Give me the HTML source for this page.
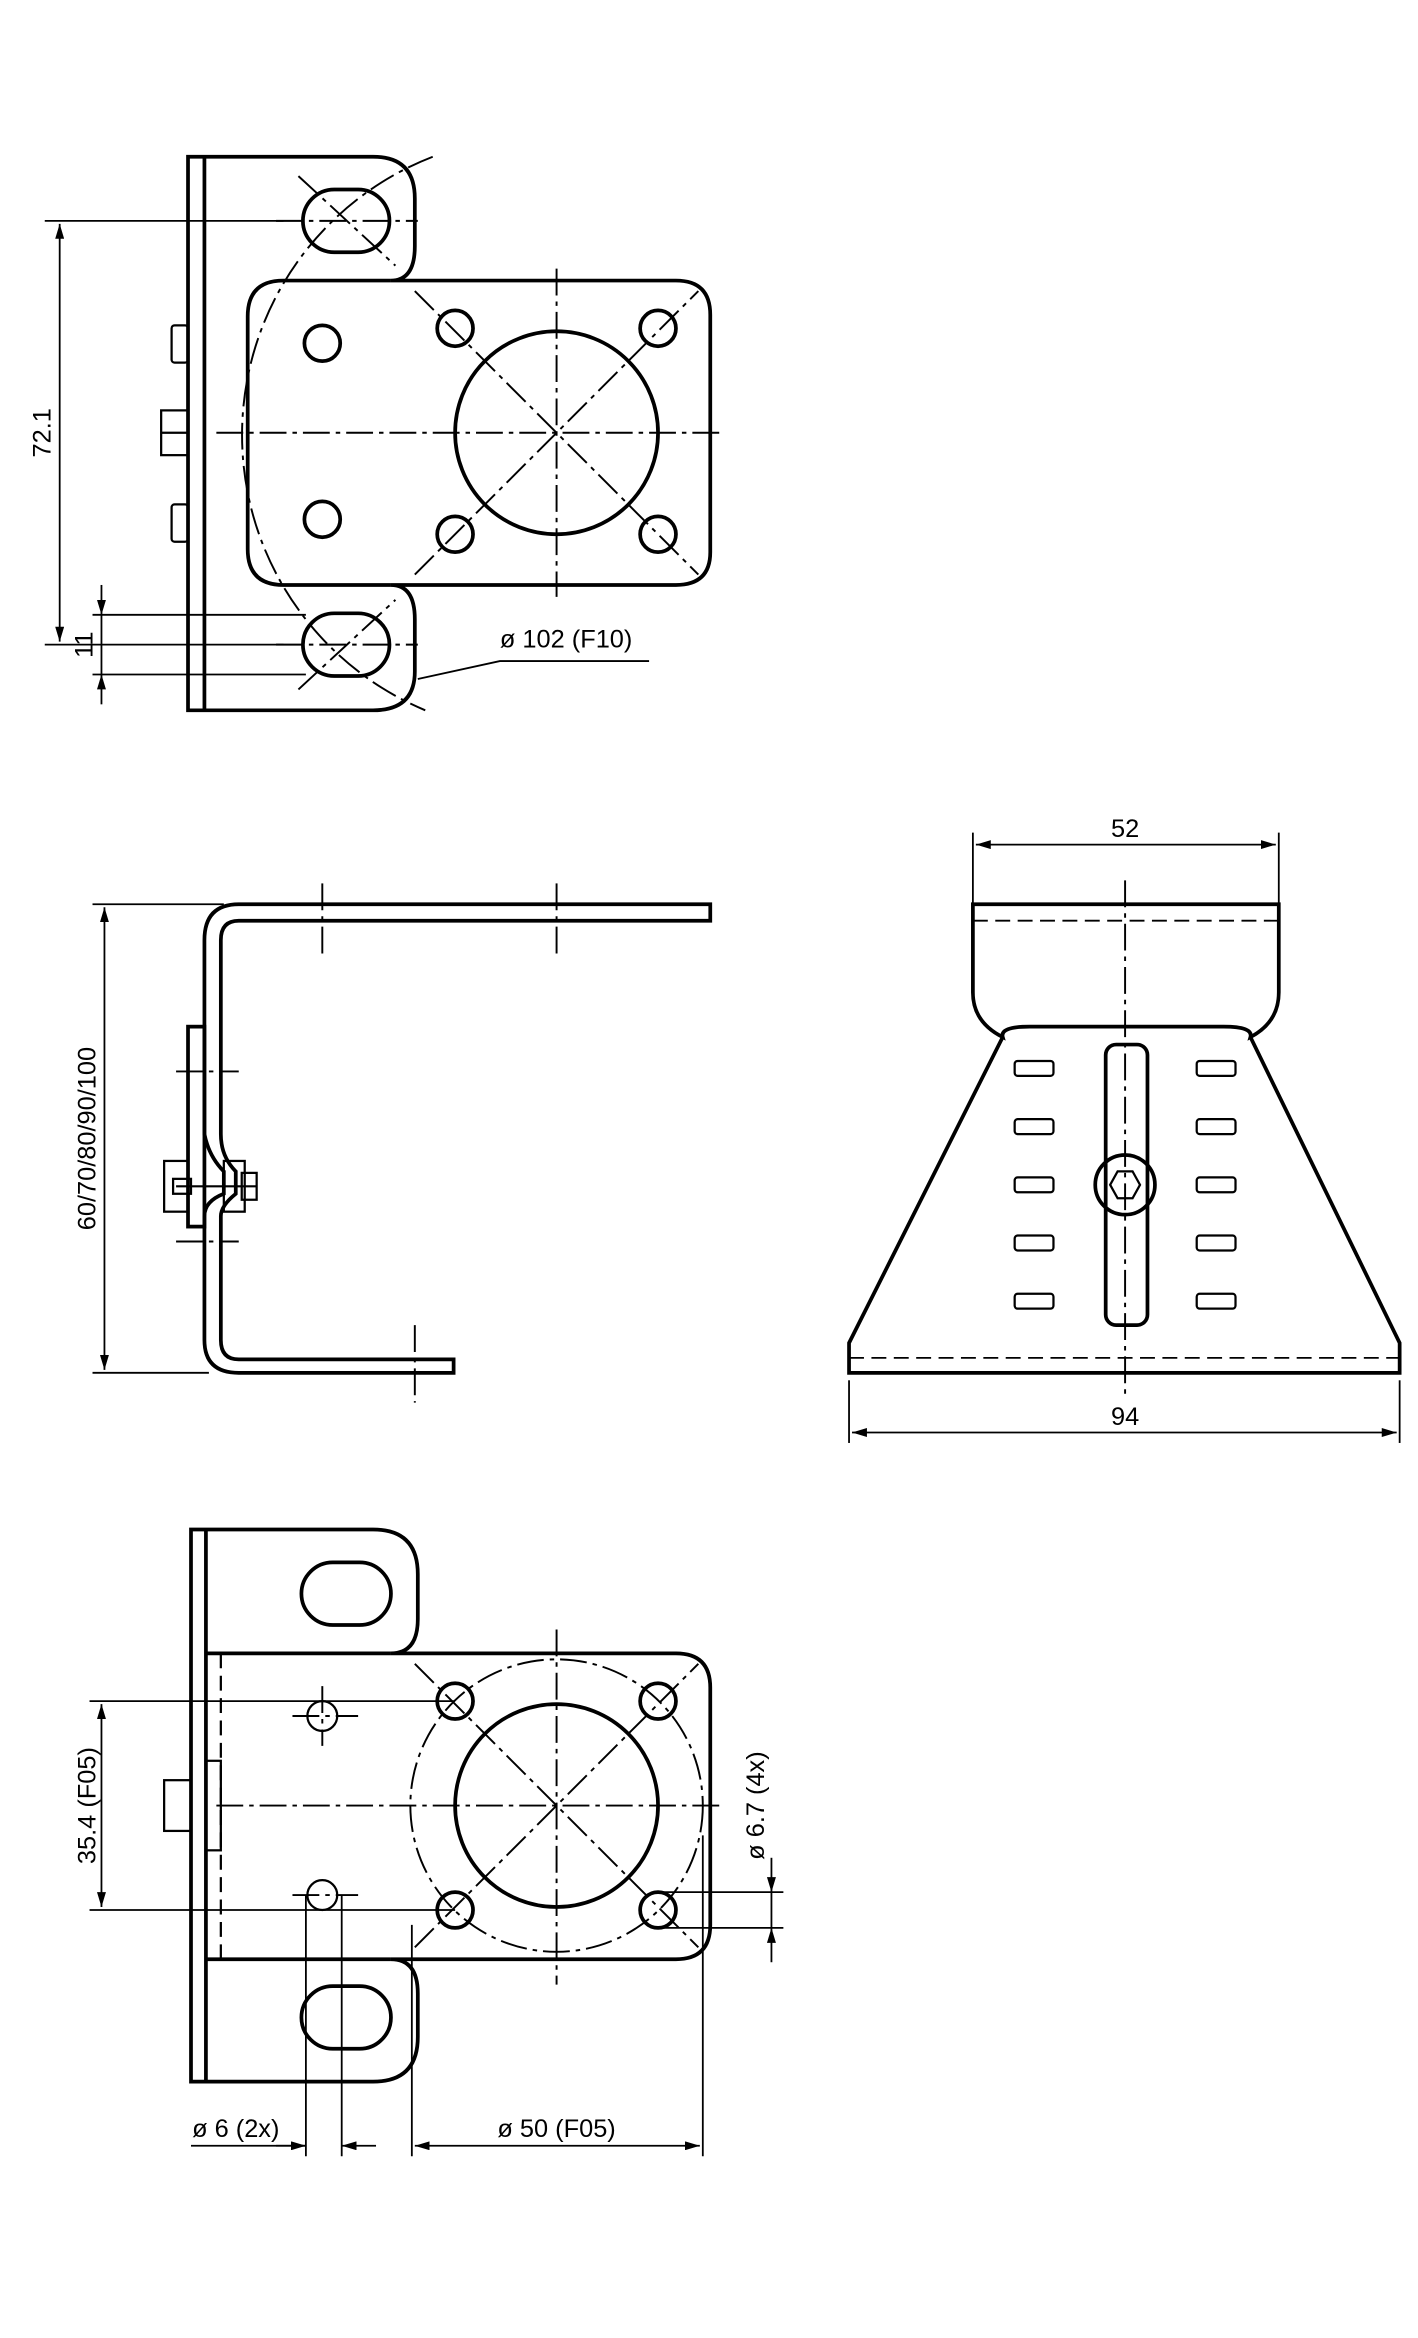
<!DOCTYPE html>
<html><head><meta charset="utf-8"><style>html,body{margin:0;padding:0;background:#fff}svg{display:block}</style></head>
<body>
<svg width="1418" height="2338" viewBox="0 0 950.3 1566.8" xmlns="http://www.w3.org/2000/svg" font-family="Liberation Sans, sans-serif" font-size="17">
<defs>
<marker id="a" viewBox="0 0 10 6" refX="10" refY="3" markerWidth="10" markerHeight="6" orient="auto-start-reverse" markerUnits="userSpaceOnUse"><path d="M0,0 L10,3 L0,6z" fill="#000"/></marker>
</defs>
<g fill="none" stroke="#000">
<!-- VIEW 1 -->
<g stroke-width="2.5">
<path d="M126,105 H250 Q278,105 278,133 V165 Q278,188 262,188 H453 Q476,188 476,211 V370 Q476,392 453,392 H262 Q278,392 278,415 V450 Q278,476 250,476 H126 Z"/>
<path d="M262,188 H190 Q166,188 166,212 V368 Q166,392 190,392 H262"/>
<line x1="137" y1="105" x2="137" y2="476"/>
<rect x="203" y="127" width="58" height="42" rx="21"/>
<rect x="203" y="411" width="58" height="42" rx="21"/>
<circle cx="373" cy="290" r="68"/>
<circle cx="305" cy="220" r="12"/><circle cx="441" cy="220" r="12"/>
<circle cx="305" cy="358" r="12"/><circle cx="441" cy="358" r="12"/>
<circle cx="216" cy="230" r="12"/><circle cx="216" cy="348" r="12"/>
</g>
<g stroke-width="1.5">
<rect x="115" y="218" width="11" height="25" rx="2"/>
<rect x="115" y="338" width="11" height="25" rx="2"/>
<rect x="108" y="275" width="18" height="30"/>
<line x1="108" y1="290" x2="126" y2="290"/>
</g>
<g stroke-width="1.3" stroke-dasharray="18,4,3,4">
<line x1="145" y1="290" x2="485" y2="290"/>
<line x1="373" y1="180" x2="373" y2="400"/>
<line x1="278" y1="195" x2="468" y2="385"/>
<line x1="278" y1="385" x2="468" y2="195"/>
<path d="M290,105 A200,200 0 0 0 285,476"/>
<line x1="185" y1="148" x2="280" y2="148"/>
<line x1="185" y1="432" x2="280" y2="432"/>
<line x1="200" y1="118" x2="265" y2="178"/>
<line x1="200" y1="462" x2="265" y2="402"/>
</g>
<g stroke-width="1.2">
<line x1="30" y1="148" x2="190" y2="148"/>
<line x1="30" y1="432" x2="190" y2="432"/>
<line x1="40" y1="150" x2="40" y2="430" marker-start="url(#a)" marker-end="url(#a)"/>
<line x1="62" y1="412" x2="205" y2="412"/>
<line x1="62" y1="452" x2="205" y2="452"/>
<line x1="68" y1="392" x2="68" y2="412" marker-end="url(#a)"/>
<line x1="68" y1="472" x2="68" y2="452" marker-end="url(#a)"/>
<line x1="68" y1="412" x2="68" y2="452"/>
<polyline points="280,455 335,443 435,443"/>
</g>
<!-- VIEW 2 -->
<g stroke-width="2.5">
<path d="M476,606 H160 Q137,606 137,630 V760 Q140,775 150,785 L150,800 Q137,805 137,815 V898 Q137,920 160,920 H304 V911 H160 Q148,911 148,898 V815 Q148,808 158,800 L158,785 Q148,775 148,760 V630 Q148,617 160,617 H476 Z"/>
<rect x="126" y="688" width="11" height="134"/>
</g>
<g stroke-width="1.5">
<rect x="110" y="778" width="16" height="34"/>
<rect x="116" y="790" width="12" height="10"/>
<rect x="150" y="778" width="14" height="34"/>
<rect x="162" y="786" width="10" height="18"/>
<line x1="118" y1="795" x2="172" y2="795"/>
</g>
<g stroke-width="1.3" stroke-dasharray="18,4,3,4">
<line x1="216" y1="592" x2="216" y2="640"/>
<line x1="373" y1="592" x2="373" y2="640"/>
<line x1="278" y1="888" x2="278" y2="940"/>
<line x1="118" y1="718" x2="160" y2="718"/>
<line x1="118" y1="832" x2="160" y2="832"/>
</g>
<g stroke-width="1.2">
<line x1="62" y1="606" x2="150" y2="606"/>
<line x1="62" y1="920" x2="140" y2="920"/>
<line x1="70" y1="608" x2="70" y2="918" marker-start="url(#a)" marker-end="url(#a)"/>
</g>
<!-- VIEW 3 -->
<g stroke-width="2.5">
<path d="M652,606 H857 V665 Q857,685 838,695 Q840,688 820,688 H690 Q670,688 672,695 Q652,685 652,665 Z"/>
<path d="M672,695 L569,900 V920 H938 V900 L838,695"/>
<rect x="741" y="700" width="28" height="188" rx="7"/>
<circle cx="754" cy="794" r="20"/>
</g>
<g stroke-width="1.5">
<rect x="680" y="711" width="26" height="10" rx="2"/><rect x="802" y="711" width="26" height="10" rx="2"/>
<rect x="680" y="750" width="26" height="10" rx="2"/><rect x="802" y="750" width="26" height="10" rx="2"/>
<rect x="680" y="789" width="26" height="10" rx="2"/><rect x="802" y="789" width="26" height="10" rx="2"/>
<rect x="680" y="828" width="26" height="10" rx="2"/><rect x="802" y="828" width="26" height="10" rx="2"/>
<rect x="680" y="867" width="26" height="10" rx="2"/><rect x="802" y="867" width="26" height="10" rx="2"/>
<polygon points="744,794 749,785 759,785 764,794 759,803 749,803"/>
</g>
<g stroke-width="1.2" stroke-dasharray="10,5">
<line x1="652" y1="617" x2="857" y2="617"/>
<line x1="569" y1="910" x2="938" y2="910"/>
</g>
<line x1="754" y1="590" x2="754" y2="935" stroke-width="1.3" stroke-dasharray="18,4,3,4"/>
<g stroke-width="1.2">
<line x1="652" y1="558" x2="652" y2="606"/><line x1="857" y1="558" x2="857" y2="606"/>
<line x1="654" y1="566" x2="855" y2="566" marker-start="url(#a)" marker-end="url(#a)"/>
<line x1="569" y1="925" x2="569" y2="967"/><line x1="938" y1="925" x2="938" y2="967"/>
<line x1="571" y1="960" x2="936" y2="960" marker-start="url(#a)" marker-end="url(#a)"/>
</g>
<!-- VIEW 4 -->
<g stroke-width="2.5">
<path d="M128,1025 H250 Q280,1025 280,1055 V1085 Q280,1108 262,1108 H453 Q476,1108 476,1131 V1290 Q476,1313 453,1313 H262 Q280,1313 280,1336 V1365 Q280,1395 250,1395 H128 Z"/>
<line x1="138" y1="1025" x2="138" y2="1395"/>
<line x1="138" y1="1108" x2="262" y2="1108"/>
<line x1="138" y1="1313" x2="262" y2="1313"/>
<rect x="202" y="1047" width="60" height="42" rx="21"/>
<rect x="202" y="1331" width="60" height="42" rx="21"/>
<circle cx="373" cy="1210" r="68"/>
<circle cx="305" cy="1140" r="12"/><circle cx="441" cy="1140" r="12"/>
<circle cx="305" cy="1280" r="12"/><circle cx="441" cy="1280" r="12"/>
</g>
<g stroke-width="1.5">
<circle cx="216" cy="1150" r="10"/><circle cx="216" cy="1270" r="10"/>
<rect x="110" y="1193" width="18" height="34"/>
<line x1="148" y1="1108" x2="148" y2="1313" stroke-dasharray="10,5"/>
<rect x="138" y="1180" width="10" height="60"/>
</g>
<g stroke-width="1.3" stroke-dasharray="18,4,3,4">
<circle cx="373" cy="1210" r="98"/>
<line x1="145" y1="1210" x2="485" y2="1210"/>
<line x1="373" y1="1092" x2="373" y2="1330"/>
<line x1="278" y1="1115" x2="468" y2="1305"/>
<line x1="278" y1="1305" x2="468" y2="1115"/>
<line x1="196" y1="1150" x2="240" y2="1150"/>
<line x1="216" y1="1130" x2="216" y2="1170"/>
<line x1="196" y1="1270" x2="240" y2="1270"/>
</g>
<g stroke-width="1.2">
<line x1="60" y1="1140" x2="305" y2="1140"/>
<line x1="60" y1="1280" x2="305" y2="1280"/>
<line x1="68" y1="1142" x2="68" y2="1278" marker-start="url(#a)" marker-end="url(#a)"/>
<line x1="441" y1="1268" x2="525" y2="1268"/>
<line x1="441" y1="1292" x2="525" y2="1292"/>
<line x1="517" y1="1245" x2="517" y2="1268" marker-end="url(#a)"/>
<line x1="517" y1="1315" x2="517" y2="1292" marker-end="url(#a)"/>
<line x1="517" y1="1268" x2="517" y2="1292"/>
<line x1="205" y1="1270" x2="205" y2="1445"/>
<line x1="229" y1="1270" x2="229" y2="1445"/>
<line x1="185" y1="1438" x2="205" y2="1438" marker-end="url(#a)"/>
<line x1="252" y1="1438" x2="229" y2="1438" marker-end="url(#a)"/>
<line x1="128" y1="1438" x2="205" y2="1438"/>
<line x1="276" y1="1290" x2="276" y2="1445"/>
<line x1="471" y1="1230" x2="471" y2="1445"/>
<line x1="278" y1="1438" x2="469" y2="1438" marker-start="url(#a)" marker-end="url(#a)"/>
</g>
</g>
<g fill="#000">
<text x="34" y="290" text-anchor="middle" transform="rotate(-90 34 290)">72.1</text>
<text x="62" y="432" text-anchor="middle" transform="rotate(-90 62 432)">11</text>
<text x="335" y="434">ø 102 (F10)</text>
<text x="64" y="763" text-anchor="middle" transform="rotate(-90 64 763)">60/70/80/90/100</text>
<text x="754" y="561" text-anchor="middle">52</text>
<text x="754" y="955" text-anchor="middle">94</text>
<text x="64" y="1210" text-anchor="middle" transform="rotate(-90 64 1210)">35.4 (F05)</text>
<text x="512" y="1210" text-anchor="middle" transform="rotate(-90 512 1210)">ø 6.7 (4x)</text>
<text x="158" y="1432" text-anchor="middle">ø 6 (2x)</text>
<text x="373" y="1432" text-anchor="middle">ø 50 (F05)</text>
</g>
</svg>
</body></html>
